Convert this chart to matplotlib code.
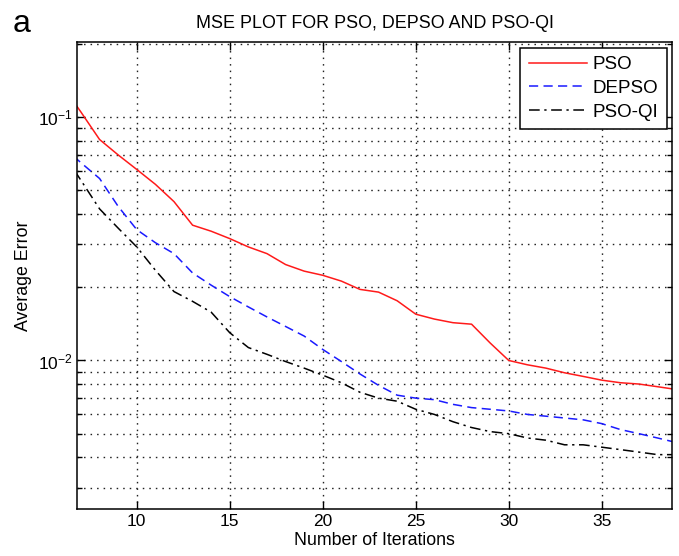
import matplotlib
matplotlib.use("Agg")
import matplotlib.pyplot as plt
from matplotlib.ticker import LogLocator, NullFormatter

plt.rcParams['font.family'] = ['Liberation Sans', 'DejaVu Sans']
plt.rcParams['mathtext.default'] = 'regular'

# values
iterations = list(range(6, 40))
pso = [0.135, 0.105, 0.081, 0.070, 0.061, 0.053, 0.045, 0.036, 0.034, 0.0317, 0.0293,
       0.0275, 0.0248, 0.0233, 0.0224, 0.0212, 0.0196, 0.0191, 0.0176, 0.0155, 0.0148,
       0.0143, 0.0141, 0.0118, 0.0100, 0.0096, 0.0093, 0.0089, 0.0086, 0.0083, 0.0081,
       0.0080, 0.0078, 0.0076]
depso = [0.076, 0.065, 0.056, 0.043, 0.0345, 0.0305, 0.0275, 0.0229, 0.0204, 0.0183,
         0.0166, 0.0151, 0.0138, 0.0126, 0.0111, 0.0099, 0.0088, 0.0079, 0.0072, 0.0070,
         0.0069, 0.0066, 0.0064, 0.0063, 0.0062, 0.0060, 0.0059, 0.0058, 0.0057, 0.0055,
         0.0052, 0.0050, 0.0048, 0.0046]
psoqi = [0.072, 0.055, 0.042, 0.035, 0.0293, 0.0235, 0.0192, 0.0175, 0.0158, 0.0130,
         0.0113, 0.0106, 0.0099, 0.0093, 0.0087, 0.0081, 0.0074, 0.0070, 0.0068, 0.0063,
         0.0060, 0.0056, 0.0053, 0.0051, 0.0050, 0.0048, 0.0047, 0.0045, 0.0045, 0.0044,
         0.0043, 0.0042, 0.0041, 0.0041]
x_ticks = [10, 15, 20, 25, 30, 35]

fig = plt.figure(figsize=(6.79, 5.56), dpi=100)
ax = fig.add_axes([0.1138, 0.0845, 0.8765, 0.84])

ax.plot(iterations, pso, color='#ff1a1a', linestyle='-', linewidth=1.1, label='PSO')
ax.plot(iterations, depso, color='#1a1aff', linestyle=(0, (6, 3.5)), linewidth=1.1, label='DEPSO')
ax.plot(iterations, psoqi, color='black', linestyle=(0, (7, 3, 1.5, 3)), linewidth=1.1, label='PSO-QI')

ax.set_yscale('log')
ax.set_xlim(6.8, 38.8)
ax.set_ylim(0.00245, 0.204)
ax.set_xticks(x_ticks)
ax.yaxis.set_major_locator(LogLocator(base=10, numticks=10))
ax.yaxis.set_minor_locator(LogLocator(base=10, subs=range(2, 10), numticks=20))
ax.yaxis.set_minor_formatter(NullFormatter())

dots = (0, (1.1, 3.6))
ax.grid(True, which='major', linestyle=dots, color='#222222', linewidth=1.0)
ax.grid(True, which='minor', axis='y', linestyle=dots, color='#222222', linewidth=1.0)
ax.tick_params(which='both', direction='in', top=True, right=True, labelsize=12.5)
ax.tick_params(which='major', length=6, width=1.0)
ax.tick_params(which='minor', length=3.5, width=1.0)
for s in ax.spines.values():
    s.set_linewidth(1.1)

ax.set_xlabel('Number of Iterations', fontsize=12.8, labelpad=2)
ax.set_ylabel('Average Error', fontsize=12.8, labelpad=4)
ax.set_title('MSE PLOT FOR PSO, DEPSO AND PSO-QI', fontsize=12.9, pad=10)
fig.text(0.019, 0.943, 'a', fontsize=23)

leg = ax.legend(loc='upper right', fontsize=13.5, fancybox=False, framealpha=1,
                edgecolor='black', handlelength=3.1, handletextpad=0.3,
                borderpad=0.45, labelspacing=0.35, borderaxespad=0.3)
leg.get_frame().set_linewidth(1.1)

fig.savefig('out.png', dpi=100)
